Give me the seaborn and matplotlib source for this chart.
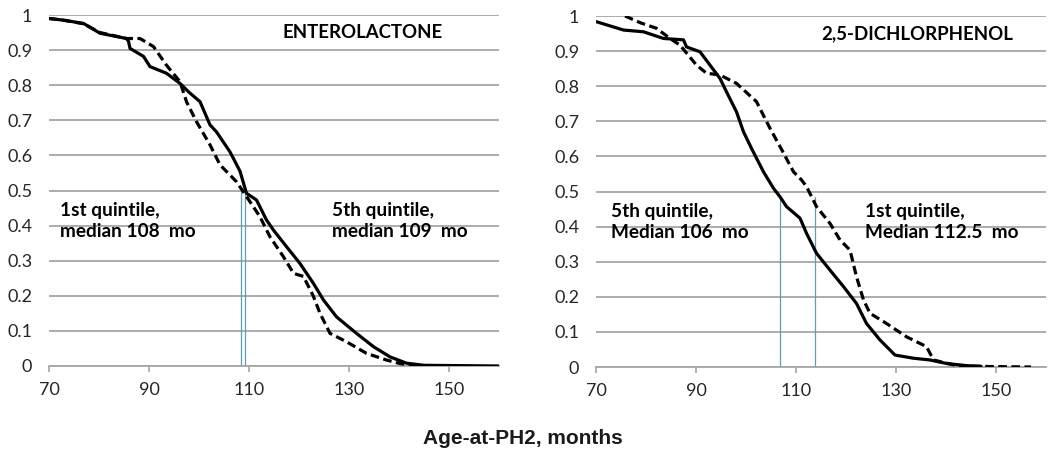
import matplotlib
matplotlib.use("Agg")
import pandas as pd
import matplotlib.pyplot as plt
import seaborn as sns

# Enterolactone, 5th quintile (solid line)
ent_q5_age = [70, 70.2, 73, 76.9, 80.2, 85.5, 85.9, 86.2, 88.9, 90.2, 93.5, 96.2, 98, 100.2, 101.2,
              102.2, 103.5, 106.2, 108.2, 109.5, 111.5, 113.5, 114.9, 117.5, 120.2, 122.9, 124.9,
              127.5, 131.5, 134.9, 138.2, 141.5, 145, 160]
ent_q5_surv = [0.99, 0.99, 0.985, 0.976, 0.948, 0.933, 0.925, 0.905, 0.882, 0.853, 0.834, 0.805, 0.78,
               0.753, 0.72, 0.687, 0.667, 0.61, 0.555, 0.492, 0.473, 0.416, 0.387, 0.34, 0.292, 0.235,
               0.188, 0.14, 0.093, 0.055, 0.026, 0.008, 0.002, 0.0]

# Enterolactone, 1st quintile (dashed line)
ent_q1_age = [70, 73, 76.9, 80.2, 85.5, 88.2, 90.9, 93.5, 96.2, 97.5, 99.5, 102.2, 104.2, 107.5, 109.5,
              112.2, 114.2, 116.9, 118.9, 120.9, 122.9, 124.2, 126.2, 129.5, 133.5, 137.5, 140.2, 143, 148]
ent_q1_surv = [0.99, 0.985, 0.975, 0.95, 0.933, 0.933, 0.91, 0.857, 0.81, 0.753, 0.696, 0.63, 0.573, 0.525,
               0.483, 0.425, 0.368, 0.311, 0.264, 0.255, 0.198, 0.15, 0.093, 0.069, 0.036, 0.017, 0.007,
               0.002, 0.0]

# 2,5-dichlorphenol, 5th quintile (solid line)
dcp_q5_age = [70, 75.5, 79.5, 83.5, 87.5, 88.1, 90.8, 92.8, 94.8, 96.1, 98.1, 99.5, 101.2, 103.5, 105.5,
              106.8, 108.1, 110.8, 112.1, 114.1, 116.8, 119.5, 122.1, 124.1, 126.8, 129.8, 133.5, 136.8,
              140.1, 144, 147]
dcp_q5_surv = [0.984, 0.96, 0.955, 0.936, 0.932, 0.912, 0.898, 0.86, 0.822, 0.784, 0.727, 0.67, 0.62, 0.556,
               0.509, 0.485, 0.457, 0.424, 0.381, 0.324, 0.276, 0.229, 0.181, 0.124, 0.077, 0.034, 0.025,
               0.02, 0.01, 0.004, 0.002]

# 2,5-dichlorphenol, 1st quintile (dashed line)
dcp_q1_age = [75.8, 79, 82.1, 84.8, 86.8, 90.1, 92.1, 94.8, 98.1, 102.1, 104.8, 107.3, 109.5, 111.1, 112.1,
              114.1, 116.8, 118.8, 120.8, 122.1, 123.5, 124.8, 128.1, 132.1, 136.1, 137.5, 141.5, 145, 157]
dcp_q1_surv = [1.0, 0.98, 0.965, 0.936, 0.917, 0.86, 0.837, 0.832, 0.808, 0.756, 0.68, 0.615, 0.556, 0.533,
               0.514, 0.457, 0.409, 0.362, 0.333, 0.257, 0.191, 0.153, 0.124, 0.086, 0.058, 0.02, 0.006,
               0.002, 0.0]

# median markers (vertical lines) and their heights
ent_medians = [108.3, 109.1]
ent_median_top = 0.495
dcp_medians = [106.7, 113.8]
dcp_median_top = 0.485

x_ticks = [70, 90, 110, 130, 150]
y_ticks = [0, 0.1, 0.2, 0.3, 0.4, 0.5, 0.6, 0.7, 0.8, 0.9, 1]
y_tick_labels = ["0", "0.1", "0.2", "0.3", "0.4", "0.5", "0.6", "0.7", "0.8", "0.9", "1"]

sns.set_theme(style="white")
plt.rcParams["font.family"] = ["Lato", "DejaVu Sans"]

df_ent = pd.concat([
    pd.DataFrame({"age": ent_q5_age, "surv": ent_q5_surv, "curve": "q5"}),
    pd.DataFrame({"age": ent_q1_age, "surv": ent_q1_surv, "curve": "q1"}),
])
df_dcp = pd.concat([
    pd.DataFrame({"age": dcp_q5_age, "surv": dcp_q5_surv, "curve": "q5"}),
    pd.DataFrame({"age": dcp_q1_age, "surv": dcp_q1_surv, "curve": "q1"}),
])

fig = plt.figure(figsize=(10.5, 4.58), dpi=100)
ax1 = fig.add_axes([49 / 1050, 92 / 458, 450 / 1050, 351 / 458])
ax2 = fig.add_axes([596 / 1050, 91 / 458, 450 / 1050, 351 / 458])

grid_col = "#a6a6a6"
text_col = "#262626"
dash_map = {"q5": "", "q1": (2.7, 1.4)}

def draw_panel(ax, df, medians, med_top, title, title_x, left_txt, right_txt, left_x, right_x):
    for m in medians:
        ax.plot([m, m], [0, med_top], color="#5f9db5", lw=0.9, zorder=2)
    sns.lineplot(data=df, x="age", y="surv", style="curve", dashes=dash_map, color="black",
                 linewidth=2.3, estimator=None, sort=False, legend=False, ax=ax, zorder=3)
    ax.set_xlim(70, 160)
    ax.set_ylim(0, 1)
    ax.set_xticks(x_ticks)
    ax.set_xticklabels([str(t) for t in x_ticks], fontsize=13, color=text_col)
    ax.set_yticks(y_ticks)
    ax.set_yticklabels(y_tick_labels, fontsize=13, color=text_col)
    ax.yaxis.grid(True, color=grid_col, lw=1.3)
    ax.set_axisbelow(True)
    for s in ["top", "right", "left"]:
        ax.spines[s].set_visible(False)
    ax.spines["bottom"].set_color(grid_col)
    ax.spines["bottom"].set_linewidth(1.3)
    ax.tick_params(axis="x", bottom=True, direction="out", length=4.5, width=1.2, color=grid_col, pad=7)
    ax.tick_params(axis="y", left=False, length=0, pad=12)
    ax.set_xlabel("")
    ax.set_ylabel("")
    ax.text(title_x, 0.95, title, fontsize=13.4, fontweight="bold", color="black", va="center")
    ax.text(left_x, 0.413, left_txt, fontsize=13.7, fontweight="bold", color="black",
            va="center", linespacing=1.35)
    ax.text(right_x, 0.413, right_txt, fontsize=13.7, fontweight="bold", color="black",
            va="center", linespacing=1.35)

draw_panel(ax1, df_ent, ent_medians, ent_median_top, "ENTEROLACTONE", 116.8,
           "1st quintile,\nmedian 108  mo", "5th quintile,\nmedian 109  mo", 72.1, 126.5)
draw_panel(ax2, df_dcp, dcp_medians, dcp_median_top, "2,5-DICHLORPHENOL", 115.1,
           "5th quintile,\nMedian 106  mo", "1st quintile,\nMedian 112.5  mo", 73.0, 123.8)

fig.text(523 / 1050, 1 - 438 / 458, "Age-at-PH2, months", fontsize=15, fontweight="bold",
         family=["Liberation Sans", "DejaVu Sans"], color="#1a1a1a", ha="center", va="center")

fig.savefig("out.png", dpi=100)
